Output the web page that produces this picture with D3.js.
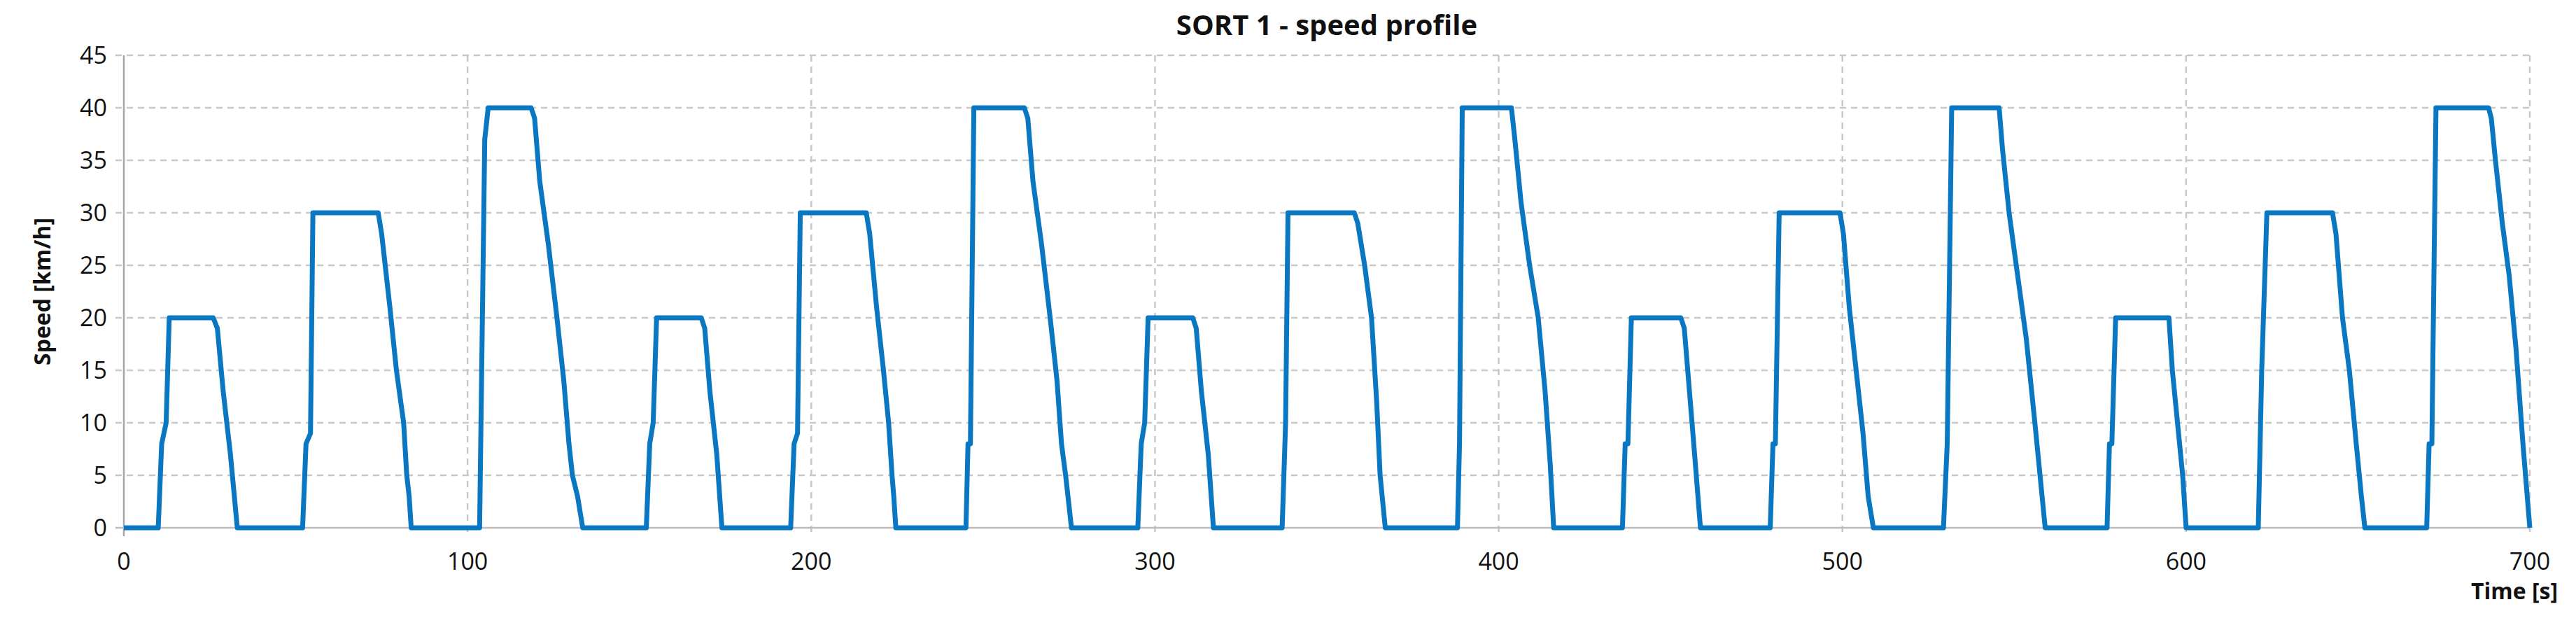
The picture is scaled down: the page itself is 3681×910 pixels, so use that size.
<!DOCTYPE html>
<html><head><meta charset="utf-8">
<script src="https://cdn.jsdelivr.net/npm/d3@7"></script>
<style>body{margin:0;background:#fff}svg{display:block}text{font-family:"Open Sans","Noto Sans",sans-serif}</style>
</head><body>
<svg id="c" width="3681" height="910"></svg>
<script>
const times = [0,10,11,12.3,13.2,26,27.2,28.9,31,33,
52,53,54.3,55,74,75,77.4,79.3,81.4,82.3,83,83.6,
103.5,105,106,118.5,119.5,121,123.5,126,128,129.5,130.5,132,133.5,
152,153,154,155,168,169,170.5,172.5,174,
194,195,196,196.8,216,217,219,221,222.5,223.5,224,224.6,
245,245.6,246.3,247.3,262,263,264.5,267,269.5,271.5,272.8,274,275.7,
295,296,297,298,311,312,313.5,315.5,317,
337,338,338.7,358,359,361,363,364.5,365.5,367,
388,388.6,389.4,403.7,404.7,406.5,409,411.5,413.5,415,416,
436,436.8,437.6,438.6,453,454,455.5,457,458.7,
479,479.8,480.5,481.6,499.3,500.3,502,504,506,507.5,509,
529.4,530.5,531.8,545.6,546.6,548.5,551,553.5,556,557.5,559,
577,577.7,578.4,579.5,595,596,597.5,599,600,
621,622,623.5,642.6,643.6,645.5,647.5,649.5,651,652,
670,670.7,671.5,672.7,688,688.8,690,692,694,696,698,700];
const speeds = [0,0,8,10,20,20,19,13,7,0,
0,8,9,30,30,28,21,15,10,5,3,0,
0,37,40,40,39,33,27,20,14,8,5,3,0,
0,8,10,20,20,19,13,7,0,
0,8,9,30,30,28,21,15,10,5,3,0,
0,8,8,40,40,39,33,27,20,14,8,5,0,
0,8,10,20,20,19,13,7,0,
0,10,30,30,29,25,20,12,5,0,
0,8,40,40,37,31,25,20,13,6,0,
0,8,8,20,20,19,13,7,0,
0,8,8,30,30,28,21,15,9,3,0,
0,8,40,40,36,30,24,18,10,5,0,
0,8,8,20,20,15,10,5,0,
0,15,30,30,28,20,15,8,3,0,
0,8,8,40,40,39,35,29,24,17,8,0];
const xTicks = [0,100,200,300,400,500,600,700];
const yTicks = [0,5,10,15,20,25,30,35,40,45];
const title = "SORT 1 - speed profile", xLabel = "Time [s]", yLabel = "Speed [km/h]";

const L=177,R=3615,T=79,B=754;
const svg=d3.select("#c");
const x=d3.scaleLinear().domain([0,700]).range([L,R]);
const y=d3.scaleLinear().domain([0,45]).range([B,T]);
const grid="#c8c8c8";
svg.append("g").selectAll("line").data(yTicks.filter(d=>d>0)).join("line")
 .attr("x1",L-12).attr("x2",R).attr("y1",d=>y(d)).attr("y2",d=>y(d))
 .attr("stroke",grid).attr("stroke-width",2.5).attr("stroke-dasharray","9,7");
svg.append("g").selectAll("line").data(xTicks.filter(d=>d>0)).join("line")
 .attr("y1",T).attr("y2",B+12).attr("x1",d=>x(d)).attr("x2",d=>x(d))
 .attr("stroke",grid).attr("stroke-width",2.5).attr("stroke-dasharray","9,7");
svg.append("line").attr("x1",L).attr("x2",L).attr("y1",T).attr("y2",B+12).attr("stroke","#a6a6a6").attr("stroke-width",2.5);
svg.append("line").attr("x1",L-12).attr("x2",R).attr("y1",B).attr("y2",B).attr("stroke","#bdbdbd").attr("stroke-width",2.5);
svg.append("g").selectAll("text").data(yTicks).join("text")
 .attr("x",L-24).attr("y",d=>y(d)).attr("dy","0.35em").attr("text-anchor","end")
 .attr("font-size",34).attr("fill","#111").text(d=>d);
svg.append("g").selectAll("text").data(xTicks).join("text")
 .attr("x",d=>x(d)).attr("y",B+60).attr("text-anchor","middle")
 .attr("font-size",34).attr("fill","#111").text(d=>d);
svg.append("text").attr("x",3655).attr("y",B+102).attr("text-anchor","end")
 .attr("font-size",32).attr("font-weight","bold").attr("fill","#111").text(xLabel);
svg.append("text").attr("transform",`translate(72,${(T+B)/2}) rotate(-90)`).attr("text-anchor","middle")
 .attr("font-size",32).attr("font-weight","bold").attr("fill","#111").text(yLabel);
svg.append("text").attr("x",(L+R)/2).attr("y",50).attr("text-anchor","middle")
 .attr("font-size",40).attr("font-weight","bold").attr("fill","#111").text(title);
const pts=times.map((t,i)=>[t,speeds[i]]);
svg.append("path").datum(pts).attr("fill","none").attr("stroke","#0a77c2").attr("stroke-width",7)
 .attr("stroke-linejoin","round").attr("d",d3.line().x(d=>x(d[0])).y(d=>y(d[1])));
</script></body></html>
